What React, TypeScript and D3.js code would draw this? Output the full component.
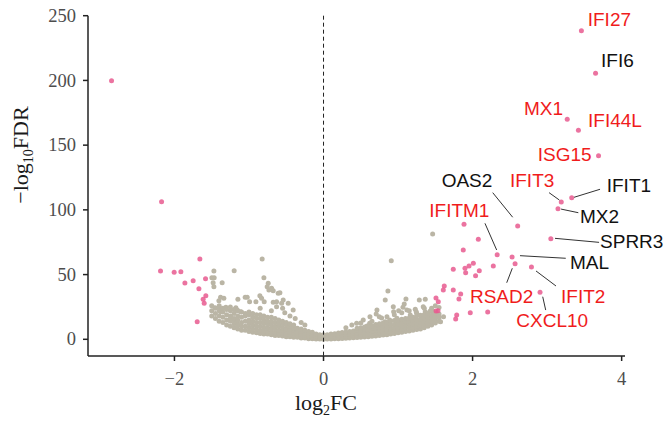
import React from 'react';
import * as d3 from 'd3';

const W = 664;
const H = 424;

// axis ticks
const xTicks = [-2, 0, 2, 4];
const yTicks = [0, 50, 100, 150, 200, 250];

// scattered non-significant genes [log2FC, -log10FDR]
const greyScatter: [number, number][] = [
  [-0.823, 62.0], [-1.471, 52.8], [-1.199, 53.0], [-1.498, 47.6], [-1.467, 47.6], [-0.8, 47.6],
  [-1.481, 43.7], [-1.36, 43.7], [-1.471, 40.6], [-0.742, 43.3], [-0.756, 40.6], [-0.733, 38.1],
  [-0.675, 37.5], [-0.608, 35.5], [-1.381, 32.4], [-1.404, 29.8], [-1.337, 31.7], [-1.149, 30.9],
  [-1.051, 32.4], [-1.024, 32.4], [-0.992, 29.0], [-0.907, 29.0], [-0.854, 33.7], [-0.831, 31.7],
  [-0.796, 29.0], [-0.63, 29.0], [-0.675, 28.6], [-0.562, 27.8], [-0.549, 23.9], [-1.458, 24.4],
  [-1.391, 23.9], [-1.381, 21.3], [-1.31, 24.7], [-1.176, 24.4], [-1.158, 22.6], [-1.113, 21.3],
  [-1.243, 17.5], [-1.256, 15.5], [-1.199, 14.9], [-1.158, 12.4], [-0.697, 39.4], [-0.585, 36.0],
  [-0.541, 30.4], [-0.474, 27.8], [-0.407, 22.6], [-0.63, 25.2], [-0.45, 18], [-0.38, 16],
  [-0.3, 13], [-0.25, 11], [-0.52, 20.5], [-0.7, 22], [-0.85, 24],
  [1.464, 81.3], [0.909, 60.7], [0.864, 37.3], [0.828, 30.4], [1.106, 31.1], [1.285, 30.4],
  [1.365, 30.9], [1.083, 27.3], [1.066, 24.7], [1.008, 22.1], [0.941, 21.3], [0.717, 22.6],
  [0.707, 19.5], [0.748, 17.5], [1.231, 23.2], [1.244, 21.3], [1.352, 23.9], [1.365, 21.3],
  [1.432, 21.9], [1.468, 21.9], [1.119, 22.6], [1.164, 18.8], [1.187, 15.5], [1.321, 17.0],
  [1.298, 14.9], [0.851, 17.5], [0.887, 14.9], [0.828, 13.6], [0.985, 16.2], [1.03, 13.6],
  [0.976, 11.8], [0.619, 12.4], [0.583, 10.3], [1.209, 11.8], [1.277, 11.0], [1.298, 13.6],
  [0.936, 25.2], [1.338, 25.2], [0.623, 17.5], [0.533, 14.9], [0.444, 12.4], [1.25, 20.1],
  [0.3, 9], [0.38, 11], [0.5, 12.5], [0.65, 14], [0.78, 16.5], [0.95, 19], [1.05, 20.5],
  [1.15, 22], [1.45, 24], [1.5, 26], [1.55, 24.5], [1.61, 17.5], [1.57, 13.6],
];

// dense cloud around the origin, one column per log2FC value
const greyCloud: [number, number[]][] = [
  [-1.5, [18, 22, 26]], [-1.45, [16, 20, 24]], [-1.4, [14, 18, 22, 26]], [-1.35, [13, 17, 21, 24]],
  [-1.3, [11, 15, 19, 23]], [-1.25, [10, 14, 18, 22, 25]], [-1.2, [9, 12, 16, 20, 23]],
  [-1.15, [8, 11, 15, 18, 22]], [-1.1, [7, 10, 13, 17, 21]], [-1.05, [7, 10, 14, 18, 20]],
  [-1.0, [6, 9, 12, 15, 19, 21]], [-0.95, [5.5, 8, 11, 14, 17, 20]], [-0.9, [5, 7.5, 10, 13, 16, 19]],
  [-0.85, [4.5, 7, 10, 13, 16, 19]], [-0.8, [4, 6.5, 9, 12, 15, 18]], [-0.75, [4, 6, 9, 12, 14, 17]],
  [-0.7, [3.5, 5.5, 8, 11, 14, 17]], [-0.65, [3, 5, 8, 10, 13, 16]], [-0.6, [3, 5, 7, 10, 12, 15]],
  [-0.55, [2.5, 4.5, 7, 9, 12, 14]], [-0.5, [2, 4, 6, 8, 11, 13]], [-0.45, [2, 3.5, 5.5, 8, 10, 12]],
  [-0.4, [1.5, 3, 5, 7, 9, 11]], [-0.35, [1.5, 3, 4.5, 6.5, 8.5]], [-0.3, [1, 2.5, 4, 6, 8]],
  [-0.25, [1, 2, 3.5, 5, 7]], [-0.2, [0.5, 2, 3, 4.5, 6]], [-0.15, [0.5, 1.5, 3, 4, 5.5]],
  [-0.1, [0.3, 1.5, 2.5, 4]], [-0.05, [0.2, 1, 2, 3.5]], [0, [0, 1, 2, 3.5]],
  [0.05, [0.2, 1, 2.2, 3.6]], [0.1, [0.3, 1.2, 2.4, 4]], [0.15, [0.4, 1.5, 2.8, 4.2]],
  [0.2, [0.5, 1.8, 3, 4.8]], [0.25, [0.7, 2, 3.4, 5.2]], [0.3, [0.9, 2.3, 3.8, 5.6]],
  [0.35, [1, 2.5, 4, 6]], [0.4, [1.2, 2.8, 4.5, 6.5]], [0.45, [1.4, 3, 5, 7, 8.5]],
  [0.5, [1.6, 3.3, 5.2, 7.2, 9]], [0.55, [1.8, 3.6, 5.6, 7.6, 9.5]], [0.6, [2, 4, 6, 8, 10]],
  [0.65, [2.3, 4.2, 6.3, 8.5, 10.5]], [0.7, [2.6, 4.5, 6.8, 9, 11.5]], [0.75, [3, 5, 7.2, 9.5, 12]],
  [0.8, [3.3, 5.5, 7.6, 10, 12.5]], [0.85, [3.6, 6, 8, 10.5, 13]], [0.9, [4, 6.5, 8.5, 11, 14]],
  [0.95, [4.4, 7, 9, 11.5, 14.5]], [1.0, [5, 7.5, 9.5, 12, 15]], [1.05, [5.5, 8, 10.5, 13, 15.5]],
  [1.1, [6, 8.5, 11, 13.5, 16]], [1.15, [6.5, 9, 11.5, 14, 16.5]], [1.2, [7, 9.5, 12, 14.5, 17]],
  [1.25, [7.5, 10, 12.5, 15, 18]], [1.3, [8, 10.5, 13, 15.5, 18.5]], [1.35, [9, 11.5, 14, 16.5, 19]],
  [1.4, [10, 12.5, 15, 17.5, 20]], [1.45, [11, 13.5, 16, 18.5]], [1.5, [12.5, 15, 17.5, 20]],
  [1.55, [14, 17, 19.5]],
];

// significant, down-regulated
const pinkDown: [number, number][] = [
  [-2.844, 199.8], [-2.173, 106.3], [-1.659, 62.0], [-2.187, 52.8], [-2.004, 51.8], [-1.914, 52.2],
  [-1.86, 43.5], [-1.749, 45.3], [-1.583, 46.8], [-1.672, 39.1], [-1.579, 33.7], [-1.615, 30.9],
  [-1.601, 27.8], [-1.695, 13.6],
];

// significant, up-regulated (unlabelled)
const pinkUp: [number, number][] = [
  [1.885, 88.8], [2.077, 77.3], [1.875, 69.0], [2.278, 56.6], [2.01, 58.7], [1.952, 56.6],
  [1.898, 54.9], [1.907, 51.5], [2.09, 53.0], [2.04, 49.1], [1.741, 54.1], [1.62, 41.2],
  [1.607, 38.1], [1.741, 38.1], [1.84, 35.0], [1.817, 31.1], [1.509, 31.9], [1.54, 29.0],
  [1.536, 22.1], [1.51, 21.9], [1.787, 18.8], [1.773, 15.7], [1.969, 20.5], [2.203, 21.1],
];

// labelled genes: name, log2FC, -log10FDR, red label
const genes: [string, number, number, boolean][] = [
  ['IFI27', 3.46, 238.4, true], ['IFI6', 3.65, 205.5, false], ['MX1', 3.27, 170.0, true],
  ['IFI44L', 3.42, 161.5, true], ['ISG15', 3.69, 141.8, true], ['OAS2', 2.605, 87.5, false],
  ['IFIT3', 3.19, 106.1, true], ['IFIT1', 3.33, 109.4, false], ['MX2', 3.146, 100.9, false],
  ['IFITM1', 2.33, 65.4, true], ['SPRR3', 3.05, 77.7, false], ['MAL', 2.53, 63.6, false],
  ['RSAD2', 2.57, 58.4, true], ['IFIT2', 2.79, 55.9, true], ['CXCL10', 2.905, 36.3, true],
];

// label text anchor (left, baseline) in data units
const labelAt: Record<string, [number, number]> = {
  IFI27: [3.545, 242.0], IFI6: [3.723, 210.6], MX1: [2.69, 173.3], IFI44L: [3.549, 164.3],
  ISG15: [2.874, 138.0], OAS2: [1.585, 117.9], IFIT3: [2.502, 117.9], IFIT1: [3.8, 113.6],
  MX2: [3.442, 89.6], IFITM1: [1.419, 94.7], SPRR3: [3.71, 70.3], MAL: [3.307, 54.1],
  RSAD2: [1.965, 27.8], IFIT2: [3.187, 27.8], CXCL10: [2.587, 9.7],
};

// leader segments [x1, y1, x2, y2]
const leaders: Record<string, [number, number, number, number]> = {
  OAS2: [2.27, 113.3, 2.538, 94.3], IFIT3: [3.026, 113.3, 3.164, 107.6],
  IFIT1: [3.71, 115.9, 3.361, 109.7], MX2: [3.419, 97.8, 3.187, 100.6],
  IFITM1: [2.166, 89.6, 2.323, 69.0], SPRR3: [3.697, 74.9, 3.106, 78.0],
  MAL: [3.25, 62.6, 2.636, 64.6], RSAD2: [2.458, 43.7, 2.533, 54.9],
  IFIT2: [3.119, 41.2, 2.851, 52.8], CXCL10: [2.981, 22.6, 2.941, 32.9],
};

const GREY = '#bab5a5';
const PINK = '#e75a8f';
const RED = '#f01c1c';
const serif = '"Liberation Serif", "DejaVu Serif", serif';
const sans = '"Liberation Sans", Arial, sans-serif';

const App: React.FC = () => {
  const x = d3.scaleLinear().domain([-3.16, 4.045]).range([88, 625]);
  const y = d3.scaleLinear().domain([-12.9, 250]).range([356, 15.7]);
  const [x0, x1] = x.range();
  const [yb, yt] = y.range();

  const greyPts: [number, number][] = [...greyScatter];
  greyCloud.forEach(([gx, ys]) => ys.forEach((gy) => greyPts.push([gx, gy])));
  const pinkPts: [number, number][] = [...pinkDown, ...pinkUp, ...genes.map((g) => [g[1], g[2]] as [number, number])];

  const fmt = (t: number) => (t < 0 ? '\u2212' + Math.abs(t) : String(t));

  return (
    <svg width={W} height={H} style={{ position: 'absolute', left: 0, top: 0, background: '#fff' }}>
      {/* points */}
      <g>
        {greyPts.map(([a, b], i) => (
          <circle key={'g' + i} cx={x(a)} cy={y(b)} r={2.5} fill={GREY} />
        ))}
        {pinkPts.map(([a, b], i) => (
          <circle key={'p' + i} cx={x(a)} cy={y(b)} r={2.5} fill={PINK} fillOpacity={0.85} />
        ))}
      </g>

      {/* zero line */}
      <line x1={x(0)} x2={x(0)} y1={yt} y2={yb} stroke="#222" strokeWidth={1} strokeDasharray="4,3" />

      {/* leaders and labels */}
      {Object.entries(leaders).map(([k, s]) => (
        <line key={'l' + k} x1={x(s[0])} y1={y(s[1])} x2={x(s[2])} y2={y(s[3])} stroke="#333" strokeWidth={1} />
      ))}
      {genes.map(([name, , , red]) => (
        <text
          key={'t' + name}
          x={x(labelAt[name][0])}
          y={y(labelAt[name][1])}
          fontFamily={sans}
          fontSize={19}
          fill={red ? RED : '#111'}
        >
          {name}
        </text>
      ))}

      {/* axes */}
      <line x1={x0} x2={x1} y1={yb} y2={yb} stroke="#222" strokeWidth={1.5} />
      <line x1={x0} x2={x0} y1={yb} y2={yt} stroke="#222" strokeWidth={1.5} />
      {xTicks.map((t) => (
        <g key={'xt' + t}>
          <line x1={x(t)} x2={x(t)} y1={yb} y2={yb + 5} stroke="#222" strokeWidth={1.5} />
          <text x={x(t)} y={385} textAnchor="middle" fontFamily={serif} fontSize={18.5} fill="#4d4d4d">
            {fmt(t)}
          </text>
        </g>
      ))}
      {yTicks.map((t) => (
        <g key={'yt' + t}>
          <line x1={x0 - 5} x2={x0} y1={y(t)} y2={y(t)} stroke="#222" strokeWidth={1.5} />
          <text x={76} y={y(t)} dy="0.33em" textAnchor="end" fontFamily={serif} fontSize={18.5} fill="#4d4d4d">
            {t}
          </text>
        </g>
      ))}

      {/* axis titles */}
      <text x={326} y={410} textAnchor="middle" fontFamily={serif} fontSize={22} fill="#1a1a1a">
        log<tspan fontSize={14} dy={5}>2</tspan>
        <tspan dy={-5}>FC</tspan>
      </text>
      <text
        transform="translate(27.5,155) rotate(-90)"
        textAnchor="middle"
        fontFamily={serif}
        fontSize={22}
        fill="#1a1a1a"
      >
        {'\u2212log'}
        <tspan fontSize={14} dy={5}>10</tspan>
        <tspan dy={-5}>FDR</tspan>
      </text>
    </svg>
  );
};

export default App;
